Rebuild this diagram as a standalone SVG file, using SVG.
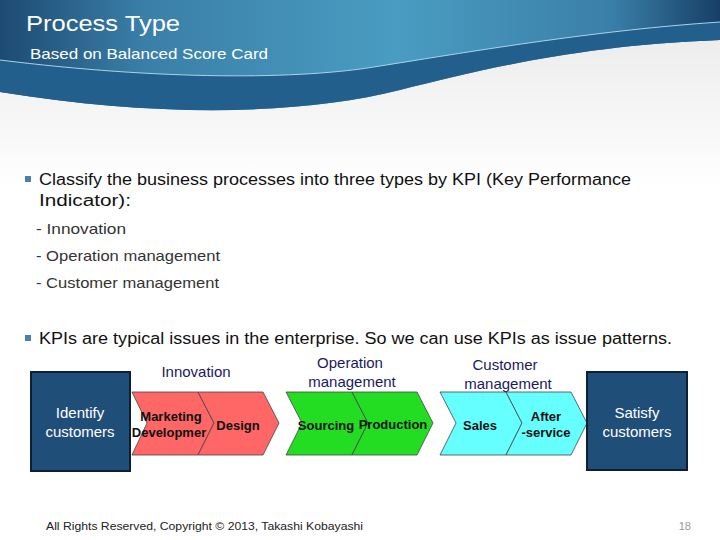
<svg xmlns="http://www.w3.org/2000/svg" width="720" height="540" viewBox="0 0 720 540">
<defs>
<linearGradient id="hd" x1="0" y1="0" x2="1" y2="0">
<stop offset="0" stop-color="#1d4a72"/><stop offset="0.2" stop-color="#3a7fa8"/><stop offset="0.55" stop-color="#4a9cc2"/><stop offset="0.85" stop-color="#3a7fa8"/><stop offset="1" stop-color="#173f66"/></linearGradient>
<linearGradient id="bg" x1="0" y1="0" x2="0" y2="1"><stop offset="0" stop-color="#e8e8e8"/><stop offset="0.35" stop-color="#ffffff"/></linearGradient>
</defs>
<style>
text{font-family:"Liberation Sans",Arial,sans-serif}
.box{fill:#1f4e79;stroke:#0d1f33;stroke-width:2}
.w{fill:#fff;font-size:15px;text-anchor:middle}
.lab{fill:#1a1a5e;font-size:15px;text-anchor:middle}
.ch{stroke:#444;stroke-width:0.8}
.ct{font-size:13px;font-weight:bold;fill:#111;text-anchor:middle}
.b{font-size:16px;fill:#111}
.s{font-size:15px;fill:#333}
.bul{fill:#4a7fb0}
</style>
<rect width="720" height="540" fill="url(#bg)"/>
<path d="M0 0H720V40C580 45 480 70 400 90C300 115 160 118 0 92Z" fill="url(#hd)"/>
<path d="M0 60C160 80 300 80 380 66C480 50 600 30 720 22V40C580 45 480 70 400 90C300 115 160 118 0 92Z" fill="#235f8c"/>
<path d="M0 60C160 80 300 80 380 66C480 50 600 30 720 22" fill="none" stroke="#a8d4ea" stroke-width="1"/>
<text x="26" y="31" fill="#fff" font-size="22" textLength="154" lengthAdjust="spacingAndGlyphs">Process Type</text>
<text x="30" y="59" fill="#fff" font-size="15" textLength="238" lengthAdjust="spacingAndGlyphs">Based on Balanced Score Card</text>
<rect class="bul" x="25" y="176" width="6" height="6"/>
<text x="39" y="185" class="b" textLength="592" lengthAdjust="spacingAndGlyphs">Classify the business processes into three types by KPI (Key Performance</text>
<text x="39" y="206" class="b" textLength="92" lengthAdjust="spacingAndGlyphs">Indicator):</text>
<text x="36" y="234" class="s" textLength="90" lengthAdjust="spacingAndGlyphs">-  Innovation</text>
<text x="36" y="261" class="s" textLength="184" lengthAdjust="spacingAndGlyphs">-  Operation management</text>
<text x="36" y="288" class="s" textLength="183" lengthAdjust="spacingAndGlyphs">-  Customer management</text>
<rect class="bul" x="25" y="335" width="6" height="6"/>
<text x="39" y="344" class="b" textLength="633" lengthAdjust="spacingAndGlyphs">KPIs are typical issues in the enterprise. So we can use KPIs as issue patterns.</text>
<text x="196" y="377" class="lab">Innovation</text>
<text x="350" y="368" class="lab">Operation</text>
<text x="352" y="387" class="lab">management</text>
<text x="505" y="370" class="lab">Customer</text>
<text x="508" y="389" class="lab">management</text>
<g id="chevrons">
<path class="ch" fill="#ff6666" d="M132 392H198L214 423L198 455H132L147 423Z"/>
<path class="ch" fill="#ff6666" d="M198 392H263L279 423L263 455H198L214 423Z"/>
<path class="ch" fill="#22dd22" d="M286 392H352L368 423L352 455H286L302 423Z"/>
<path class="ch" fill="#22dd22" d="M352 392H417L433 423L417 455H352L368 423Z"/>
<path class="ch" fill="#66ffff" d="M440 392H506L522 423L506 455H440L456 423Z"/>
<path class="ch" fill="#66ffff" d="M506 392H571L587 423L571 455H506L522 423Z"/>
<text x="171" y="421" class="ct">Marketing</text>
<text x="169" y="437" class="ct">Developmer</text>
<text x="238" y="430" class="ct">Design</text>
<text x="326" y="430" class="ct">Sourcing</text>
<text x="393" y="429" class="ct">Production</text>
<text x="480" y="430" class="ct">Sales</text>
<text x="546" y="421" class="ct">After</text>
<text x="546" y="437" class="ct">-service</text>
</g>
<g id="identify"><rect class="box" x="31" y="372" width="99" height="99"/><text x="80" y="418" class="w">Identify</text><text x="80" y="437" class="w">customers</text></g>
<g id="satisfy"><rect class="box" x="587" y="372" width="100" height="98"/><text x="637" y="418" class="w">Satisfy</text><text x="637" y="437" class="w">customers</text></g>
<text x="46" y="530" font-size="11" fill="#222" textLength="317" lengthAdjust="spacingAndGlyphs">All Rights Reserved, Copyright © 2013,  Takashi Kobayashi</text>
<text x="691" y="530" font-size="11" fill="#999" text-anchor="end">18</text>
</svg>
